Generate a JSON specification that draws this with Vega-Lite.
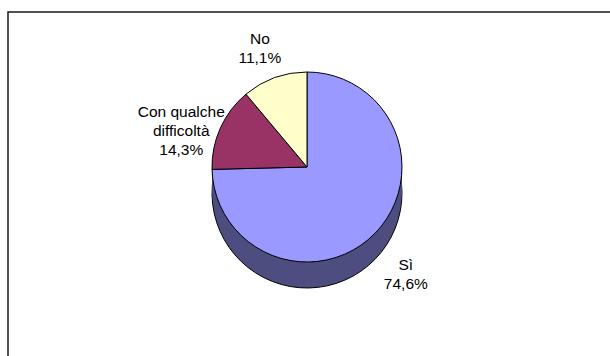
{
  "$schema": "https://vega.github.io/schema/vega-lite/v6.json",
  "width": 610,
  "height": 356,
  "autosize": {"type": "fit", "contains": "padding"},
  "padding": {"left": 7, "top": 11, "right": -13, "bottom": -13},
  "background": "white",
  "config": {
    "view": {"stroke": null},
    "font": "Liberation Sans"
  },
  "layer": [
    {
      "description": "chart area border",
      "data": {"values": [{}]},
      "mark": {"type": "rect", "fill": null, "stroke": "#1a1a1a", "strokeWidth": 1.5},
      "encoding": {
        "x": {"value": 0},
        "x2": {"value": "width"},
        "y": {"value": 0},
        "y2": {"value": "height"}
      }
    },
    {
      "data": {
        "values": [
          {"risposta": "Sì", "quota": 74.6, "ord": 1},
          {"risposta": "Con qualche\ndifficoltà", "quota": 14.3, "ord": 2},
          {"risposta": "No", "quota": 11.1, "ord": 3}
        ]
      },
      "transform": [
        {"calculate": "datum.risposta + '\\n' + replace(format(datum.quota, '.1f'), '.', ',') + '%'", "as": "etichetta"}
      ],
      "encoding": {
        "theta": {"field": "quota", "type": "quantitative", "stack": true},
        "order": {"field": "ord", "type": "quantitative"}
      },
      "layer": [
        {
          "mark": {"type": "arc", "radius": 95, "xOffset": -8, "yOffset": 3, "stroke": "black", "strokeWidth": 1},
          "encoding": {
            "fill": {"field": "risposta", "type": "nominal", "legend": null,
              "scale": {"domain": ["Sì", "Con qualche\ndifficoltà", "No"], "range": ["#4d4d80", "#4d1a33", "#808066"]}}
          }
        },
        {
          "mark": {"type": "arc", "radius": 95, "xOffset": -8, "yOffset": -2},
          "encoding": {"fill": {"field": "risposta", "type": "nominal", "legend": null}}
        },
        {
          "mark": {"type": "arc", "radius": 95, "xOffset": -8, "yOffset": -7},
          "encoding": {"fill": {"field": "risposta", "type": "nominal", "legend": null}}
        },
        {
          "mark": {"type": "arc", "radius": 95, "xOffset": -8, "yOffset": -12},
          "encoding": {"fill": {"field": "risposta", "type": "nominal", "legend": null}}
        },
        {
          "mark": {"type": "arc", "radius": 95, "xOffset": -8, "yOffset": -18},
          "encoding": {"fill": {"field": "risposta", "type": "nominal", "legend": null}}
        },
        {
          "mark": {"type": "arc", "radius": 95, "xOffset": -8, "yOffset": -23, "stroke": "black", "strokeWidth": 1},
          "encoding": {
            "color": {"field": "risposta", "type": "nominal", "legend": null,
              "scale": {"domain": ["Sì", "Con qualche\ndifficoltà", "No"], "range": ["#9999ff", "#993366", "#ffffcc"]}}
          }
        },
        {
          "mark": {"type": "text", "radius": 138, "xOffset": -8, "yOffset": -21, "fontSize": 15.5, "lineBreak": "\n", "lineHeight": 19, "color": "black", "align": "center", "baseline": "middle"},
          "encoding": {
            "text": {"field": "etichetta", "type": "nominal"}
          }
        }
      ]
    }
  ]
}
